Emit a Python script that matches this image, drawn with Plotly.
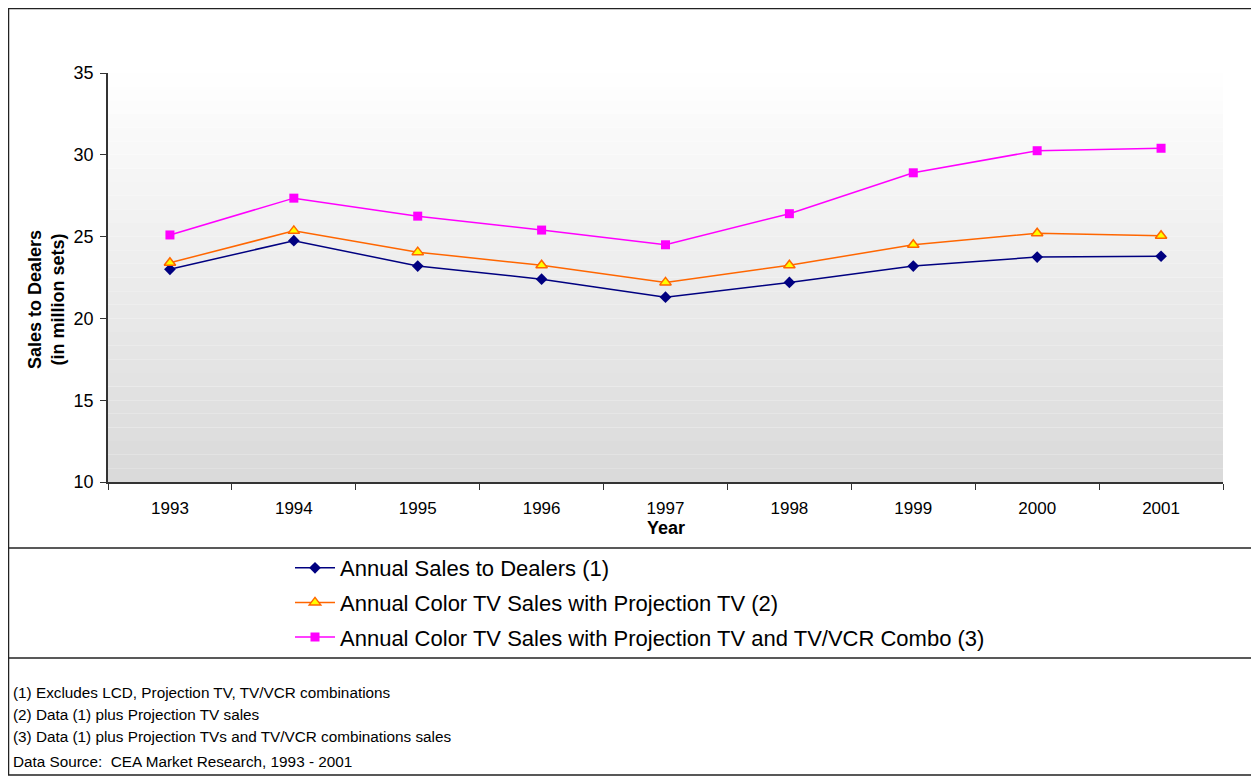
import plotly.graph_objects as go

years = ["1993", "1994", "1995", "1996", "1997", "1998", "1999", "2000", "2001"]
dealers = [23.0, 24.75, 23.2, 22.4, 21.3, 22.2, 23.2, 23.75, 23.8]
with_projection = [23.4, 25.35, 24.05, 23.25, 22.2, 23.25, 24.5, 25.2, 25.05]
with_combo = [25.1, 27.35, 26.25, 25.4, 24.5, 26.4, 28.9, 30.25, 30.4]

names = [
    "Annual Sales to Dealers (1)",
    "Annual Color TV Sales with Projection TV (2)",
    "Annual Color TV Sales with Projection TV and TV/VCR Combo (3)",
]
footnotes = [
    "(1) Excludes LCD, Projection TV, TV/VCR combinations",
    "(2) Data (1) plus Projection TV sales",
    "(3) Data (1) plus Projection TVs and TV/VCR combinations sales",
    "Data Source:  CEA Market Research, 1993 - 2001",
]

# the page body adds an 8px offset, so the figure is drawn 8px smaller
OFF = 8
W, H = 1259 - OFF, 776 - OFF
# plot area, in page pixels
L, R, T, B = 108, 1223, 73, 482


def px(x):
    return (x - L) / (R - L)


def py(y):
    return (B - y) / (B - T)


FONT = "Liberation Sans, Arial, sans-serif"

fig = go.Figure()

fig.add_trace(go.Scatter(
    x=years, y=dealers, name=names[0], mode="lines+markers", legendgroup="a",
    line=dict(color="#000080", width=1.5),
    marker=dict(symbol="diamond", size=9, color="#000080"),
))
fig.add_trace(go.Scatter(
    x=years, y=with_projection, name=names[1], mode="lines+markers", legendgroup="b",
    line=dict(color="#FF6600", width=1.5),
    marker=dict(symbol="triangle-up", size=10, color="#FFFF00",
                line=dict(color="#FF6600", width=1.5)),
))
fig.add_trace(go.Scatter(
    x=years, y=with_combo, name=names[2], mode="lines+markers", legendgroup="c",
    line=dict(color="#FF00FF", width=1.5),
    marker=dict(symbol="square", size=9, color="#FF00FF"),
))

shapes = []
# banded gradient background: white at top to light grey at bottom
n_bands = 30
for i in range(n_bands):
    frac = i / (n_bands - 1)
    v = round(218 + (254 - 218) * frac)
    shapes.append(dict(
        type="rect", xref="paper", yref="paper", layer="below",
        x0=0, x1=1, y0=i / n_bands, y1=(i + 1) / n_bands,
        fillcolor=f"rgb({v},{v},{v})", line=dict(width=0),
    ))
# outer frame and separators
frame = dict(color="#222222", width=1.5)
RIGHT = 1256
shapes.append(dict(type="rect", xref="paper", yref="paper",
                   x0=px(8.5), x1=px(RIGHT), y0=py(8.5), y1=py(775), line=frame))
shapes.append(dict(type="line", xref="paper", yref="paper",
                   x0=px(8), x1=px(RIGHT), y0=py(548), y1=py(548), line=frame))
shapes.append(dict(type="line", xref="paper", yref="paper",
                   x0=px(8), x1=px(RIGHT), y0=py(658), y1=py(658), line=frame))

annotations = [
    dict(text="<b>Sales to Dealers</b><br><b>(in million sets)</b>", textangle=-90,
         xref="paper", yref="paper", x=px(46), y=py(300), showarrow=False,
         xanchor="center", yanchor="middle", font=dict(size=18, color="black")),
    dict(text="<b>Year</b>", xref="paper", yref="paper", x=px(666), y=py(528),
         showarrow=False, xanchor="center", yanchor="middle",
         font=dict(size=18, color="black")),
]
for i, line in enumerate(footnotes):
    annotations.append(dict(
        text=line, xref="paper", yref="paper", x=px(11),
        y=py([692, 714, 736, 761][i]), showarrow=False,
        xanchor="left", yanchor="middle", font=dict(size=15.3, color="black"),
    ))

fig.update_layout(
    width=W, height=H,
    margin=dict(l=L - OFF, r=1259 - R, t=T - OFF, b=776 - B),
    paper_bgcolor="white", plot_bgcolor="rgba(0,0,0,0)",
    font=dict(family=FONT, color="black"),
    shapes=shapes, annotations=annotations,
    legend=dict(
        x=px(290), y=py(547), xanchor="left", yanchor="top",
        font=dict(size=22, color="black"), tracegroupgap=3,
        bgcolor="rgba(0,0,0,0)", itemwidth=40,
    ),
)
fig.update_xaxes(
    type="category", range=[-0.5, 8.5], tickson="boundaries",
    ticks="outside", ticklen=6, tickcolor="#333333",
    showline=True, linecolor="#333333", linewidth=1.5,
    showgrid=False, tickfont=dict(size=17), ticklabelstandoff=10,
    fixedrange=True,
)
fig.update_yaxes(
    range=[10, 35], dtick=5, ticks="outside", ticklen=6, tickcolor="#333333",
    showline=True, linecolor="#333333", linewidth=1.5,
    showgrid=False, zeroline=False, tickfont=dict(size=18), ticklabelstandoff=3,
    fixedrange=True,
)

fig.write_html("out.html")
